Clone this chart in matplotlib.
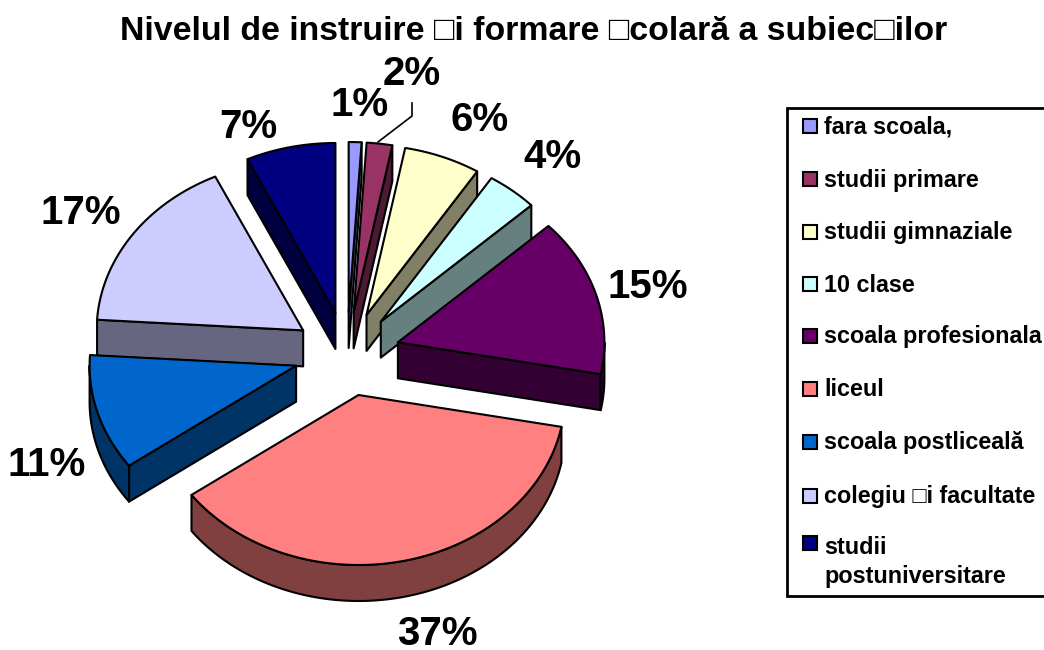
import matplotlib
matplotlib.use("Agg")
import matplotlib.pyplot as plt
import numpy as np
from matplotlib.patches import Polygon, Rectangle

title = "Nivelul de instruire \u25a1i formare \u25a1colar\u0103 a subiec\u25a1ilor"
categories = ["fara scoala,", "studii primare", "studii gimnaziale", "10 clase",
              "scoala profesionala", "liceul", "scoala postliceal\u0103",
              "colegiu \u25a1i facultate", "studii\npostuniversitare"]
values = [1, 2, 6, 4, 15, 37, 11, 17, 7]
colors = ["#9999FF", "#993366", "#FFFFCC", "#CCFFFF", "#660066",
          "#FF8080", "#0066CC", "#CCCCFF", "#000080"]

label_pos = [(360, 105), (412, 74), (480, 120), (552, 157), (648, 287),
             (437, 634), (47, 465), (81, 213), (248, 127)]
legend_y = [126, 179, 232, 284, 336, 389, 442, 496, 543]

plt.rcParams['font.family'] = ['Liberation Sans', 'DejaVu Sans']
plt.rcParams['font.weight'] = 'bold'

fig = plt.figure(figsize=(10.44, 6.5), dpi=100)
ax = fig.add_axes([0, 0, 1, 1])
ax.set_xlim(0, 1044)
ax.set_ylim(650, 0)
ax.axis("off")

cx, cy = 347, 354
rx, ry = 206.5, 170
ex, ey = 53, 42
depth = 36


def shade(c):
    r, g, b = matplotlib.colors.to_rgb(c)
    return (r / 2, g / 2, b / 2)


def arc(x0, y0, a, b):
    t = np.radians(np.linspace(a, b, max(int(b - a) * 2, 2)))
    return np.column_stack([x0 + rx * np.sin(t), y0 - ry * np.cos(t)])


edges = np.cumsum([0] + values) / sum(values) * 360

# back slices first
order = sorted(range(len(values)), key=lambda i: np.cos(np.radians((edges[i] + edges[i + 1]) / 2)), reverse=True)
for i in order:
    a, b = edges[i], edges[i + 1]
    mid = np.radians((a + b) / 2)
    x0 = cx + ex * np.sin(mid)
    y0 = cy - ey * np.cos(mid)
    wall = shade(colors[i])
    top = arc(x0, y0, a, b)
    down = np.array([0, depth])
    apex = np.array([x0, y0])
    kw = dict(edgecolor="black", linewidth=1.5, joinstyle="round", facecolor=wall)
    # only the side faces turned toward the viewer
    if np.sin(np.radians(a)) < 0:
        p = top[0]
        ax.add_patch(Polygon([apex, p, p + down, apex + down], **kw))
    if np.sin(np.radians(b)) > 0:
        p = top[-1]
        ax.add_patch(Polygon([apex, p, p + down, apex + down], **kw))
    lo, hi = max(a, 90), min(b, 270)
    if hi > lo:
        rim = arc(x0, y0, lo, hi)
        ax.add_patch(Polygon(np.vstack([rim, rim[::-1] + down]), **kw))
    ax.add_patch(Polygon(np.vstack([apex, top]), edgecolor="black", linewidth=1.5,
                         facecolor=colors[i], joinstyle="round"))

ax.plot([378, 412, 412], [142, 116, 103], color="black", lw=1.2)

for v, (x, y) in zip(values, label_pos):
    ax.text(x, y, "%d%%" % v, fontsize=29, ha="center", va="center", color="black")

ax.text(534, 32, title, fontsize=24.4, ha="center", va="center", color="black")

ax.add_patch(Rectangle((787, 108), 270, 488, facecolor="white", edgecolor="black", linewidth=2))
for name, c, y in zip(categories, colors, legend_y):
    ax.add_patch(Rectangle((803, y - 7), 14, 14, facecolor=c, edgecolor="black", linewidth=1.5))
    if "\n" in name:
        first, second = name.split("\n")
        ax.text(824, y + 4, first, fontsize=16.8, ha="left", va="center", color="black")
        ax.text(824, y + 34, second, fontsize=16.8, ha="left", va="center", color="black")
    else:
        ax.text(824, y + 1, name, fontsize=16.8, ha="left", va="center", color="black")

fig.savefig("out.png", dpi=100)
